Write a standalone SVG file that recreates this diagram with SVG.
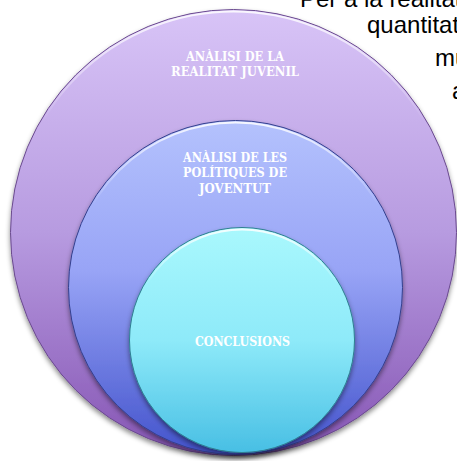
<svg xmlns="http://www.w3.org/2000/svg" width="457" height="461" viewBox="0 0 457 461">
<defs>
<style>
.bg{font-family:"Liberation Sans",Arial,sans-serif;font-size:24px;fill:#000}
.lbl{font-family:"DejaVu Serif","Liberation Serif",serif;font-weight:bold;font-size:13px;fill:#fff;text-anchor:middle}
.edge{stroke-width:1}
</style>
<linearGradient id="g1" x1="0" y1="0" x2="0" y2="1">
<stop offset="0" stop-color="#d8c4f7"/>
<stop offset="0.5" stop-color="#b79be0"/>
<stop offset="1" stop-color="#8655b4"/>
</linearGradient>
<linearGradient id="g2" x1="0" y1="0" x2="0" y2="1">
<stop offset="0" stop-color="#b4c2fd"/>
<stop offset="0.45" stop-color="#98a4f6"/>
<stop offset="1" stop-color="#4353cc"/>
</linearGradient>
<linearGradient id="g3" x1="0" y1="0" x2="0" y2="1">
<stop offset="0" stop-color="#a9f8fd"/>
<stop offset="0.5" stop-color="#8eeaf9"/>
<stop offset="1" stop-color="#48bfe4"/>
</linearGradient>
<linearGradient id="rim" x1="0" y1="0" x2="0" y2="1">
<stop offset="0" stop-color="#fff" stop-opacity="0.85"/>
<stop offset="0.25" stop-color="#fff" stop-opacity="0"/>
</linearGradient>
<filter id="sh" x="-10%" y="-10%" width="120%" height="125%">
<feDropShadow dx="0" dy="3" stdDeviation="2.5" flood-color="#000" flood-opacity="0.45"/>
</filter>
</defs>
<text class="bg" x="300" y="7">Per a la realitat</text>
<text class="bg" x="367" y="33">quantitat</text>
<text class="bg" x="435" y="66">mu</text>
<text class="bg" x="452" y="99">a</text>
<g id="outer">
<circle cx="233.5" cy="232.5" r="223" fill="url(#g1)" stroke="#6a4a8e" class="edge" filter="url(#sh)"/>
<circle cx="233.5" cy="232.5" r="221" fill="none" stroke="url(#rim)" stroke-width="2"/>
<text class="lbl" x="235" y="61" textLength="98" lengthAdjust="spacingAndGlyphs">ANÀLISI DE LA</text>
<text class="lbl" x="235" y="76" textLength="128" lengthAdjust="spacingAndGlyphs">REALITAT JUVENIL</text>
</g>
<g id="middle">
<circle cx="235.5" cy="287.5" r="167" fill="url(#g2)" stroke="#34408e" class="edge" filter="url(#sh)"/>
<circle cx="235.5" cy="287.5" r="165" fill="none" stroke="url(#rim)" stroke-width="2"/>
<text class="lbl" x="235" y="162" textLength="104" lengthAdjust="spacingAndGlyphs">ANÀLISI DE LES</text>
<text class="lbl" x="235" y="177" textLength="104" lengthAdjust="spacingAndGlyphs">POLÍTIQUES DE</text>
<text class="lbl" x="235" y="193" textLength="72" lengthAdjust="spacingAndGlyphs">JOVENTUT</text>
</g>
<g id="inner">
<circle cx="242" cy="340" r="112.5" fill="url(#g3)" stroke="#2e7f90" class="edge" filter="url(#sh)"/>
<circle cx="242" cy="340" r="110.5" fill="none" stroke="url(#rim)" stroke-width="2"/>
<text class="lbl" x="242.5" y="346" textLength="95" lengthAdjust="spacingAndGlyphs">CONCLUSIONS</text>
</g>
<g id="connectors"/>
</svg>
